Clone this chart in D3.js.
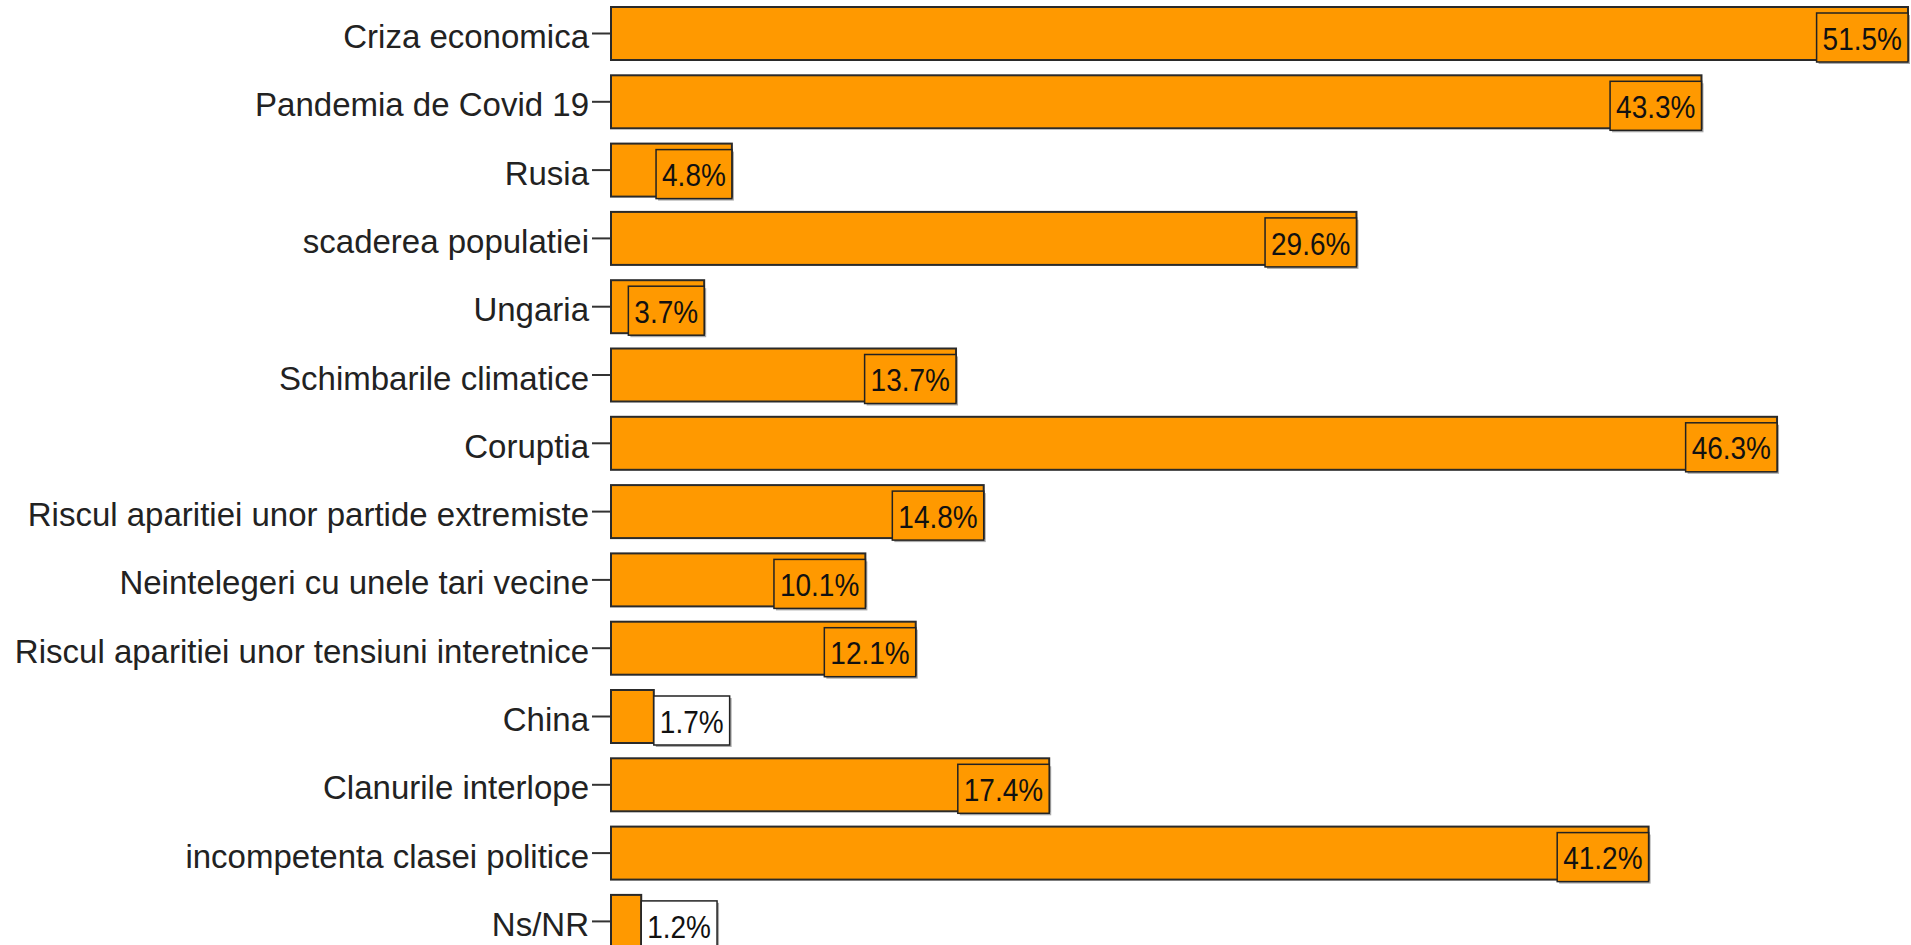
<!DOCTYPE html>
<html>
<head>
<meta charset="utf-8">
<script src="https://cdn.jsdelivr.net/npm/d3@7"></script>
<style>
  html, body { margin: 0; padding: 0; background: #fff; }
  svg { display: block; }
  text { font-family: "Liberation Sans", Arial, sans-serif; }
</style>
</head>
<body>
<svg id="chart" width="1911" height="945"></svg>
<script>
const categories = [
  "Criza economica",
  "Pandemia de Covid 19",
  "Rusia",
  "scaderea populatiei",
  "Ungaria",
  "Schimbarile climatice",
  "Coruptia",
  "Riscul aparitiei unor partide extremiste",
  "Neintelegeri cu unele tari vecine",
  "Riscul aparitiei unor tensiuni interetnice",
  "China",
  "Clanurile interlope",
  "incompetenta clasei politice",
  "Ns/NR"
];
const values = [51.5, 43.3, 4.8, 29.6, 3.7, 13.7, 46.3, 14.8, 10.1, 12.1, 1.7, 17.4, 41.2, 1.2];
const valueLabels = ["51.5%", "43.3%", "4.8%", "29.6%", "3.7%", "13.7%", "46.3%", "14.8%", "10.1%", "12.1%", "1.7%", "17.4%", "41.2%", "1.2%"];

const svg = d3.select("#chart");
const left = 611;
const x = d3.scaleLinear().domain([0, 51.5]).range([left, 1908]);

const step = 68.3, pad = 0.224;
const y0 = 7 - step * pad / 2;
const y = d3.scaleBand()
  .domain(categories)
  .range([y0, y0 + step * categories.length])
  .paddingInner(pad)
  .paddingOuter(pad / 2);

const data = categories.map((c, i) => ({ c, v: values[i], l: valueLabels[i] }));

// Axis (ticks + labels)
const axis = d3.axisLeft(y).tickSizeOuter(0).tickSize(19).tickPadding(3);
const gAxis = svg.append("g").attr("transform", `translate(${left},0)`).call(axis);
gAxis.select(".domain").remove();
gAxis.selectAll(".tick line").attr("stroke", "#333").attr("stroke-width", 2);
gAxis.selectAll(".tick text")
  .attr("fill", "#222")
  .attr("dy", "0.44em")
  .style("font-size", "33px")
  .style("font-family", "'Liberation Sans', Arial, sans-serif");

// Bars
svg.append("g").selectAll("rect")
  .data(data)
  .join("rect")
  .attr("x", x(0))
  .attr("y", d => y(d.c))
  .attr("width", d => x(d.v) - x(0))
  .attr("height", y.bandwidth())
  .attr("fill", "#FF9900")
  .attr("stroke", "#2a2a2a")
  .attr("stroke-width", 2);

// Value label boxes
const lg = svg.append("g");
data.forEach(d => {
  const g = lg.append("g");
  const t = g.append("text")
    .text(d.l)
    .style("font-size", "28px")
    .attr("fill", "#111")
    .attr("dominant-baseline", "central");
  const tw = t.node().getComputedTextLength();
  const bw = tw + 12;
  const barW = x(d.v) - x(0);
  const inside = barW >= bw;
  const bx = inside ? x(d.v) - bw : x(d.v);
  const by = y(d.c) + 6;
  const bh = y.bandwidth() - 4;
  g.insert("rect", "text")
    .attr("x", bx + 2).attr("y", by + 2)
    .attr("width", bw).attr("height", bh)
    .attr("fill", "#555").attr("opacity", 0.5);
  g.insert("rect", "text")
    .attr("x", bx).attr("y", by)
    .attr("width", bw).attr("height", bh)
    .attr("fill", inside ? "#FF9900" : "#ffffff")
    .attr("stroke", "#222").attr("stroke-width", 1.5);
  t.attr("x", bx + (bw - tw) / 2).attr("y", by + bh / 2 + 1)
    .attr("transform", `translate(0, ${by + bh / 2}) scale(1, 1.12) translate(0, ${-(by + bh / 2)})`);
});
</script>
</body>
</html>
